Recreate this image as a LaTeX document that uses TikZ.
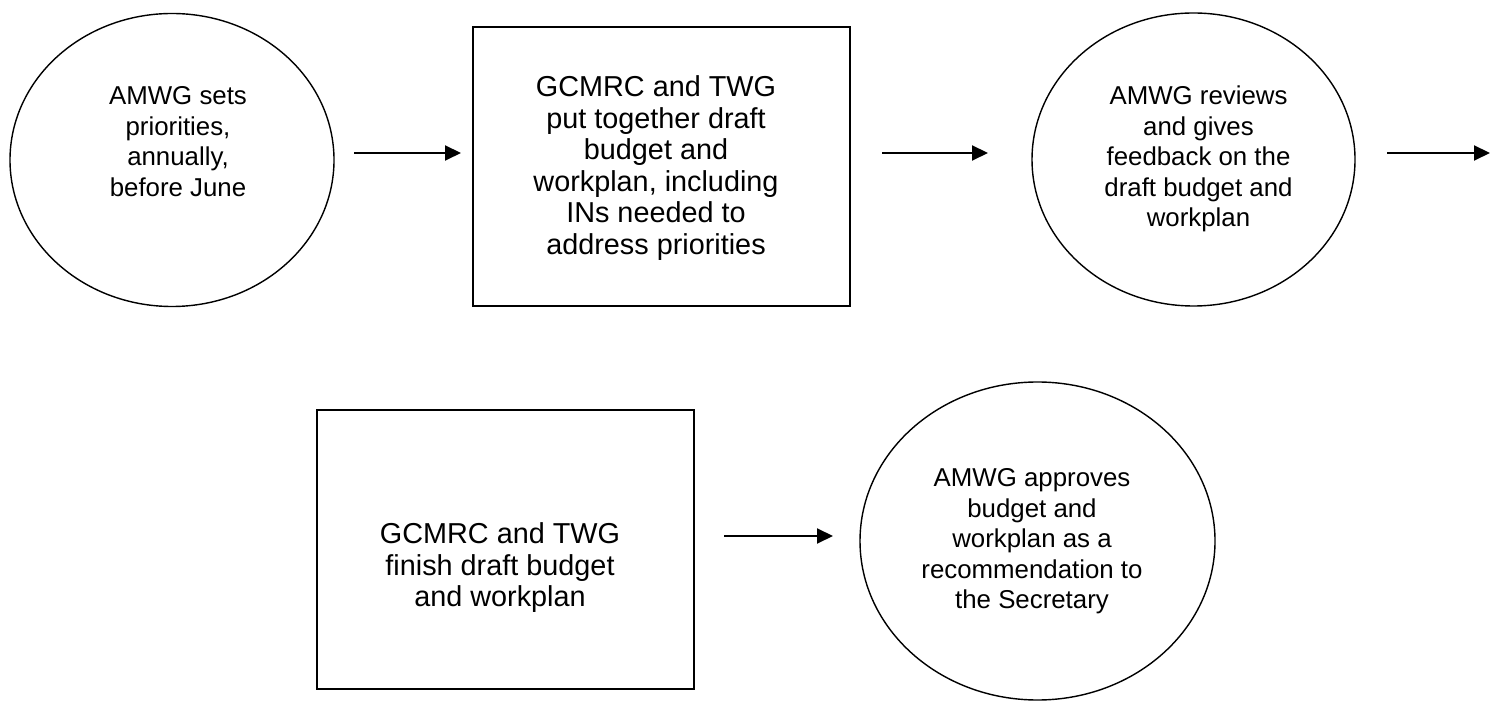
\documentclass[tikz,border=0pt]{standalone}
\usepackage{fontspec}
\setmainfont{Liberation Sans}
\usetikzlibrary{shapes.geometric,arrows.meta,positioning}

\begin{document}
\begin{tikzpicture}
\tikzstyle{oval}=[ellipse,draw=black,line width=0.8pt,
inner sep=0pt,outer sep=0pt]
\tikzstyle{stepbox}=[rectangle,draw=black,line width=1pt,
inner sep=0pt,outer sep=0pt,minimum width=7.54cm,minimum height=5.58cm]
\tikzstyle{ovaltext}=[align=center,inner sep=0pt,font=\fontsize{14.7}{17.35}\selectfont]
\tikzstyle{boxtext}=[align=center,inner sep=0pt,font=\fontsize{16.4}{17.9}\selectfont]
\tikzstyle{flow}=[-{Triangle[length=3.2mm,width=3mm]},line width=1.1pt]

\useasboundingbox (0,0) rectangle (29.8,14);

% top row
\node[oval,minimum width=6.48cm,minimum height=5.86cm] at (3.44,10.80) (1) {};
\node[stepbox] at (13.23,10.67) (2) {};
\node[oval,minimum width=6.46cm,minimum height=5.86cm] at (23.87,10.81) (3) {};
% bottom row
\node[stepbox] at (10.11,3.01) (4) {};
\node[oval,minimum width=7.1cm,minimum height=6.36cm] at (20.75,3.18) (5) {};

\node[ovaltext] at ([shift={(0.12,0.37)}]1.center) (1t) {AMWG sets\\priorities,\\annually,\\before June};
\node[boxtext] at ([shift={(-0.11,-0.03)}]2.center) (2t) {GCMRC and TWG\\put together draft\\budget and\\workplan, including\\INs needed to\\address priorities};
\node[ovaltext] at ([shift={(0.10,0.01)}]3.center) (3t) {AMWG reviews\\and gives\\feedback on the\\draft budget and\\workplan};
\node[boxtext] at ([shift={(-0.11,-0.37)}]4.center) (4t) {GCMRC and TWG\\finish draft budget\\and workplan};
\node[ovaltext] at ([shift={(-0.11,-0.01)}]5.center) (5t) {AMWG approves\\budget and\\workplan as a\\recommendation to\\the Secretary};

\coordinate (r1) at (0,10.94);
\coordinate (r2) at (0,3.28);
\coordinate (out) at (29.8,10.94);

\draw[flow] ([xshift=0.4cm]1.east |- r1) -- ([xshift=-0.24cm]2.west |- r1);
\draw[flow] ([xshift=0.64cm]2.east |- r1) -- ([xshift=-0.88cm]3.west |- r1);
\draw[flow] ([xshift=0.64cm]3.east |- r1) -- (out);
\draw[flow] ([xshift=0.6cm]4.east |- r2) -- ([xshift=-0.54cm]5.west |- r2);

\end{tikzpicture}
\end{document}
